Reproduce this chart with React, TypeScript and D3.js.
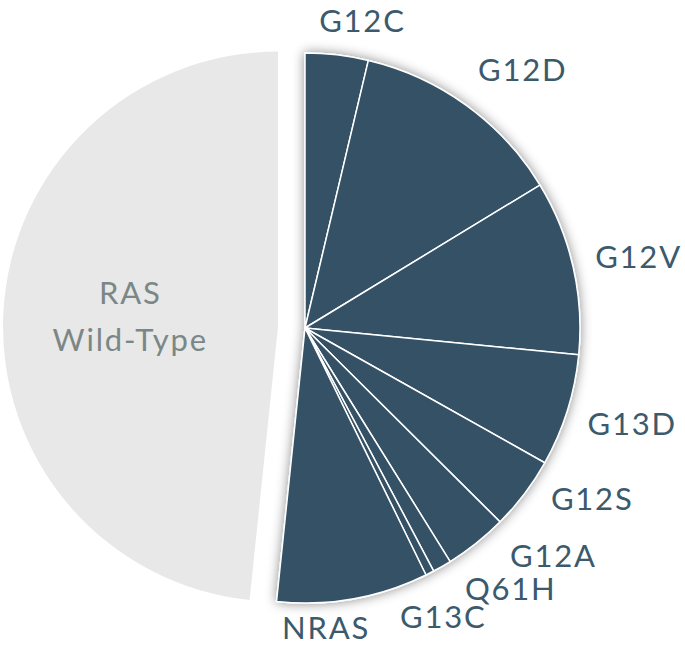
import React, { useEffect, useRef } from 'react';
import * as d3 from 'd3';

// mutation share (%) of colorectal cases, read clockwise from 12 o'clock
const mutations = ['G12C', 'G12D', 'G12V', 'G13D', 'G12S', 'G12A', 'Q61H', 'G13C', 'NRAS'];
const mutationValues = [3.7, 12.6, 10.25, 6.6, 4.3, 3.7, 1.1, 0.5, 8.9];
const wildTypeLabel = ['RAS', 'Wild-Type'];
const wildTypeValue = 48.35;

// label placement (degrees clockwise from top, distance from centre)
const labelAngles = [10.6, 40.1, 78.0, 106.3, 120.7, 132.5, 141.7, 154.4, 176.0];
const labelRadii = [312, 338, 341, 341, 334, 337, 332, 320, 301];

const App = () => {
    const chartRef = useRef<SVGSVGElement>(null);

    useEffect(() => {
        const width = 685;
        const height = 647;
        const cx = 305;
        const cy = 328;
        const radius = 275;
        const explode = 27;

        const svg = d3.select(chartRef.current);
        svg.selectAll('*').remove();

        const defs = svg.append('defs');
        const filter = defs
            .append('filter')
            .attr('id', 'shadow')
            .attr('x', '-20%')
            .attr('y', '-20%')
            .attr('width', '140%')
            .attr('height', '140%');
        filter
            .append('feDropShadow')
            .attr('dx', 0)
            .attr('dy', 0)
            .attr('stdDeviation', 6)
            .attr('flood-color', '#000')
            .attr('flood-opacity', 0.45);

        const data = [
            ...mutations.map((m, i) => ({ name: m, value: mutationValues[i], wild: false })),
            { name: 'wild', value: wildTypeValue, wild: true },
        ];

        const pie = d3
            .pie<any>()
            .sort(null)
            .value((d) => d.value);
        const arcs = pie(data);

        const arc = d3.arc<any>().innerRadius(0).outerRadius(radius);

        const g = svg.append('g').attr('transform', `translate(${cx},${cy})`);

        // wild-type slice, pulled out to the left
        const wild = arcs.find((a) => a.data.wild)!;
        const wildMid = (wild.startAngle + wild.endAngle) / 2;
        const [ox, oy] = d3.pointRadial(wildMid, explode);
        const wg = g.append('g').attr('transform', `translate(${ox},${oy})`);
        wg.append('path').attr('d', arc(wild)).attr('fill', '#e8e8e8');

        const [lx, ly] = d3.pointRadial(wildMid, 148);
        const wt = wg
            .append('text')
            .attr('x', lx)
            .attr('y', ly)
            .attr('text-anchor', 'middle')
            .attr('fill', '#7b8786')
            .style('font-family', 'Lato, "Noto Sans", sans-serif')
            .style('font-size', '31px')
            .style('letter-spacing', '1.8px');
        wt.selectAll('tspan')
            .data(wildTypeLabel)
            .enter()
            .append('tspan')
            .attr('x', lx)
            .attr('dy', (d, i) => (i === 0 ? -15 : 47))
            .text((d) => d);

        // mutated slices
        const mg = g.append('g').attr('filter', 'url(#shadow)');
        mg.selectAll('path')
            .data(arcs.filter((a) => !a.data.wild))
            .enter()
            .append('path')
            .attr('d', arc)
            .attr('fill', '#345166')
            .attr('stroke', '#fff')
            .attr('stroke-width', 1.5)
            .attr('stroke-linejoin', 'round');

        // labels
        g.selectAll('text.lbl')
            .data(mutations)
            .enter()
            .append('text')
            .attr('class', 'lbl')
            .attr('x', (d, i) => d3.pointRadial((labelAngles[i] * Math.PI) / 180, labelRadii[i])[0])
            .attr('y', (d, i) => d3.pointRadial((labelAngles[i] * Math.PI) / 180, labelRadii[i])[1])
            .attr('dy', '0.36em')
            .attr('text-anchor', 'middle')
            .attr('fill', '#3b5a6d')
            .style('font-family', 'Lato, "Noto Sans", sans-serif')
            .style('font-size', '31px')
            .style('letter-spacing', '1.8px')
            .text((d) => d);

        svg.attr('width', width).attr('height', height);
    }, []);

    return (
        <svg
            ref={chartRef}
            style={{ position: 'absolute', left: 0, top: 0, display: 'block', background: '#fff' }}
        />
    );
};

export default App;
